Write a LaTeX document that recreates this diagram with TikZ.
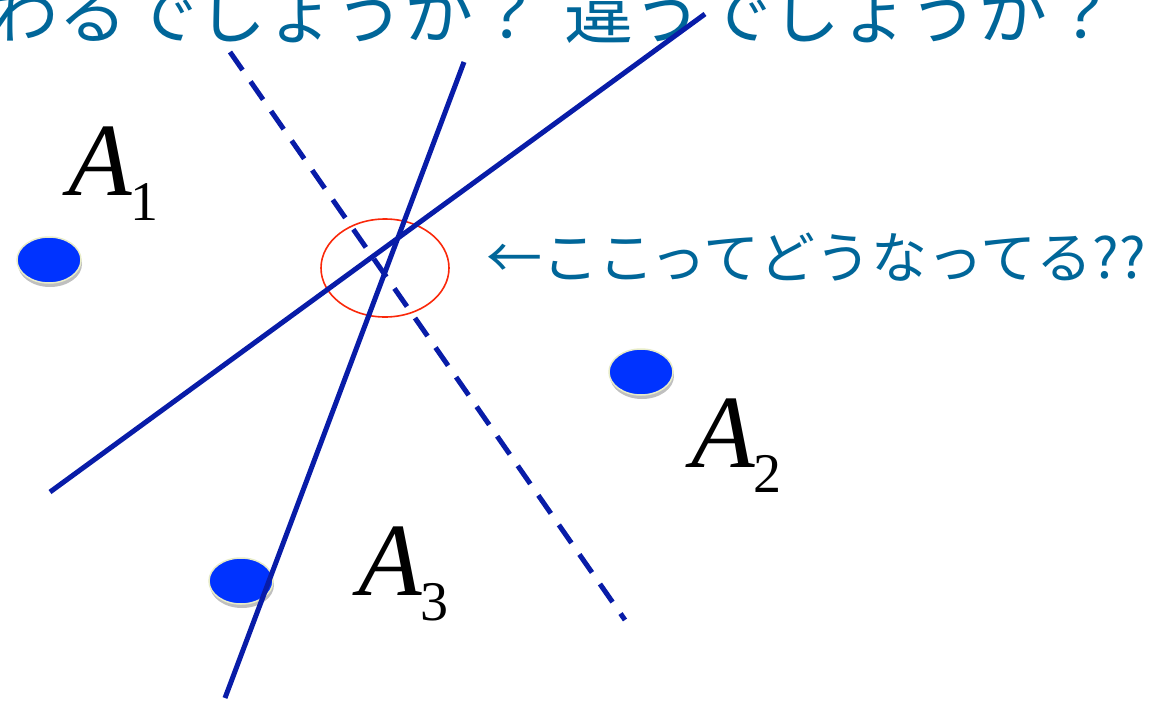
\documentclass[tikz,border=0pt]{standalone}
\usepackage{fontspec}
\setmainfont{Liberation Serif}
\newfontfamily\jpfont{Noto Sans CJK JP}
\usepackage{tikz}
\usetikzlibrary{shapes.geometric,shadows}
\definecolor{textblue}{RGB}{0,102,153}
\definecolor{lineblue}{RGB}{8,28,168}
\definecolor{dotblue}{RGB}{0,51,255}
\definecolor{rimcream}{RGB}{232,236,200}
\definecolor{ringred}{RGB}{250,40,10}
\newcommand{\ptname}[1]{\textit{A}\kern-1pt\raisebox{-25pt}{\fontsize{56}{56}\selectfont #1}}

\begin{document}
\begin{tikzpicture}[x=1pt, y=-1pt, every node/.style={inner sep=0pt, outer sep=0pt},
	dot/.style={ellipse, fill=dotblue, draw=rimcream, line width=1.5pt, minimum width=64pt, minimum height=46pt,
		drop shadow={shadow xshift=1pt, shadow yshift=-4pt, opacity=0.25, fill=black}},
	ptlabel/.style={anchor=base west, font=\fontsize{104}{104}\selectfont},
	jptext/.style={anchor=base west, textblue},
	bisector/.style={lineblue, line width=5pt}]
	\useasboundingbox (0,0) rectangle (1158,701);
	\node[jptext, font=\jpfont\fontsize{69}{69}\selectfont] (title) at (-10,39) {わるでしょうか？\hspace{23pt}違うでしょうか？};
	\node[jptext, font=\jpfont\fontsize{56}{56}\selectfont] (note) at (486,278) {←ここってどうなってる??};
	\node[ptlabel] (a1) at (68,195) {\ptname{1}};
	\node[ptlabel] (a2) at (691,467) {\ptname{2}};
	\node[ptlabel] (a3) at (358,595) {\ptname{3}};
	\node[dot] (p1) at (49,260) {};
	\node[dot] (p2) at (641,372) {};
	\node[dot] (p3) at (241,581) {};
	\node[ellipse, draw=ringred, line width=1.6pt, minimum width=128pt, minimum height=98pt] (spot) at (385,268) {};
	\draw[bisector] (50,492) -- (705,14);
	\draw[bisector] (464,62) -- (225,698);
	\draw[bisector, dash pattern=on 22pt off 14pt] (230,52) -- (625,620);
\end{tikzpicture}
\end{document}
